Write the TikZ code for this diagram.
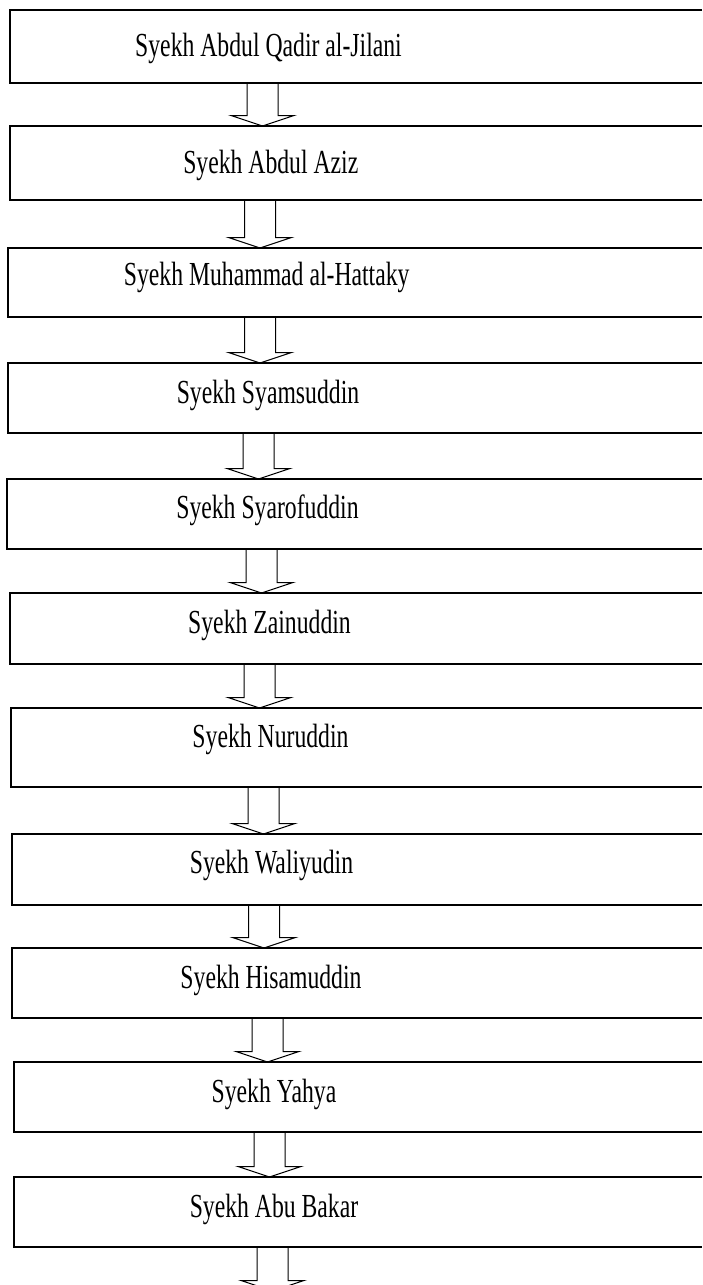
\documentclass[tikz,border=0pt]{standalone}
\usepackage{fontspec}
\setmainfont{Liberation Serif}
\usetikzlibrary{calc}
\newcommand\tallt[1]{\scalebox{1}[1.42]{#1}}
\newcommand\blockarr[3]{%
  \draw[barrow] let \p1=(#1), \p2=(#2) in
    (#3-15.5,\y1) -- (#3-15.5,\y2+10.5pt) -- (#3-31.5,\y2+10.5pt) -- (#3,\y2)
    -- (#3+31.5,\y2+10.5pt) -- (#3+15.5,\y2+10.5pt) -- (#3+15.5,\y1) -- cycle;}
\newcommand\openbox[1]{%
  \draw[boxline] (#1.north east) -- (#1.north west) -- (#1.south west) -- (#1.south east);}
\begin{document}
\begin{tikzpicture}[x=1pt,y=-1pt,
  box/.style={rectangle, inner sep=0, outer sep=0, anchor=north west},
  boxline/.style={line width=1.4pt, line join=miter},
  lbl/.style={anchor=base, inner sep=0, outer sep=0, font=\fontsize{23.7}{28}\selectfont},
  barrow/.style={draw, line width=1pt, line join=miter}]
\useasboundingbox (0,0) rectangle (702,1285);
\clip (0,0) rectangle (702,1285);
% boxes (they run off the right edge of the picture)
\node[box, minimum width=692pt, minimum height=73pt] (b1) at (10,10) {};
\node[box, minimum width=692pt, minimum height=74pt] (b2) at (10,126) {};
\node[box, minimum width=694pt, minimum height=69pt] (b3) at (8,248) {};
\node[box, minimum width=694pt, minimum height=70pt] (b4) at (8,363) {};
\node[box, minimum width=695pt, minimum height=70pt] (b5) at (7,479) {};
\node[box, minimum width=692pt, minimum height=71pt] (b6) at (10,593) {};
\node[box, minimum width=691pt, minimum height=79pt] (b7) at (11,708) {};
\node[box, minimum width=690pt, minimum height=71pt] (b8) at (12,834) {};
\node[box, minimum width=690pt, minimum height=70pt] (b9) at (12,948) {};
\node[box, minimum width=688pt, minimum height=70pt] (b10) at (14,1062) {};
\node[box, minimum width=688pt, minimum height=70pt] (b11) at (14,1177) {};
\foreach \b in {b1,b2,b3,b4,b5,b6,b7,b8,b9,b10,b11} {\openbox{\b}}
\coordinate (e11) at (272.5,1291);
% labels
\node[lbl] (t1) at (268.5,56) {\tallt{Syekh Abdul Qadir al-Jilani}};
\node[lbl] (t2) at (270.8,173) {\tallt{Syekh Abdul Aziz}};
\node[lbl] (t3) at (266.7,285) {\tallt{Syekh Muhammad al-Hattaky}};
\node[lbl] (t4) at (268,403) {\tallt{Syekh Syamsuddin}};
\node[lbl] (t5) at (267.5,518) {\tallt{Syekh Syarofuddin}};
\node[lbl] (t6) at (269.5,633) {\tallt{Syekh Zainuddin}};
\node[lbl] (t7) at (270.5,747) {\tallt{Syekh Nuruddin}};
\node[lbl] (t8) at (271.5,873) {\tallt{Syekh Waliyudin}};
\node[lbl] (t9) at (271,988) {\tallt{Syekh Hisamuddin}};
\node[lbl] (t10) at (274,1102) {\tallt{Syekh Yahya}};
\node[lbl] (t11) at (274,1217) {\tallt{Syekh Abu Bakar}};
% block arrows
\blockarr{b1.south}{b2.north}{262.5}
\blockarr{b2.south}{b3.north}{260}
\blockarr{b3.south}{b4.north}{260}
\blockarr{b4.south}{b5.north}{258.5}
\blockarr{b5.south}{b6.north}{261.5}
\blockarr{b6.south}{b7.north}{259.5}
\blockarr{b7.south}{b8.north}{263.5}
\blockarr{b8.south}{b9.north}{264}
\blockarr{b9.south}{b10.north}{267.5}
\blockarr{b10.south}{b11.north}{269.5}
\blockarr{b11.south}{e11}{272.5}
\end{tikzpicture}
\end{document}
